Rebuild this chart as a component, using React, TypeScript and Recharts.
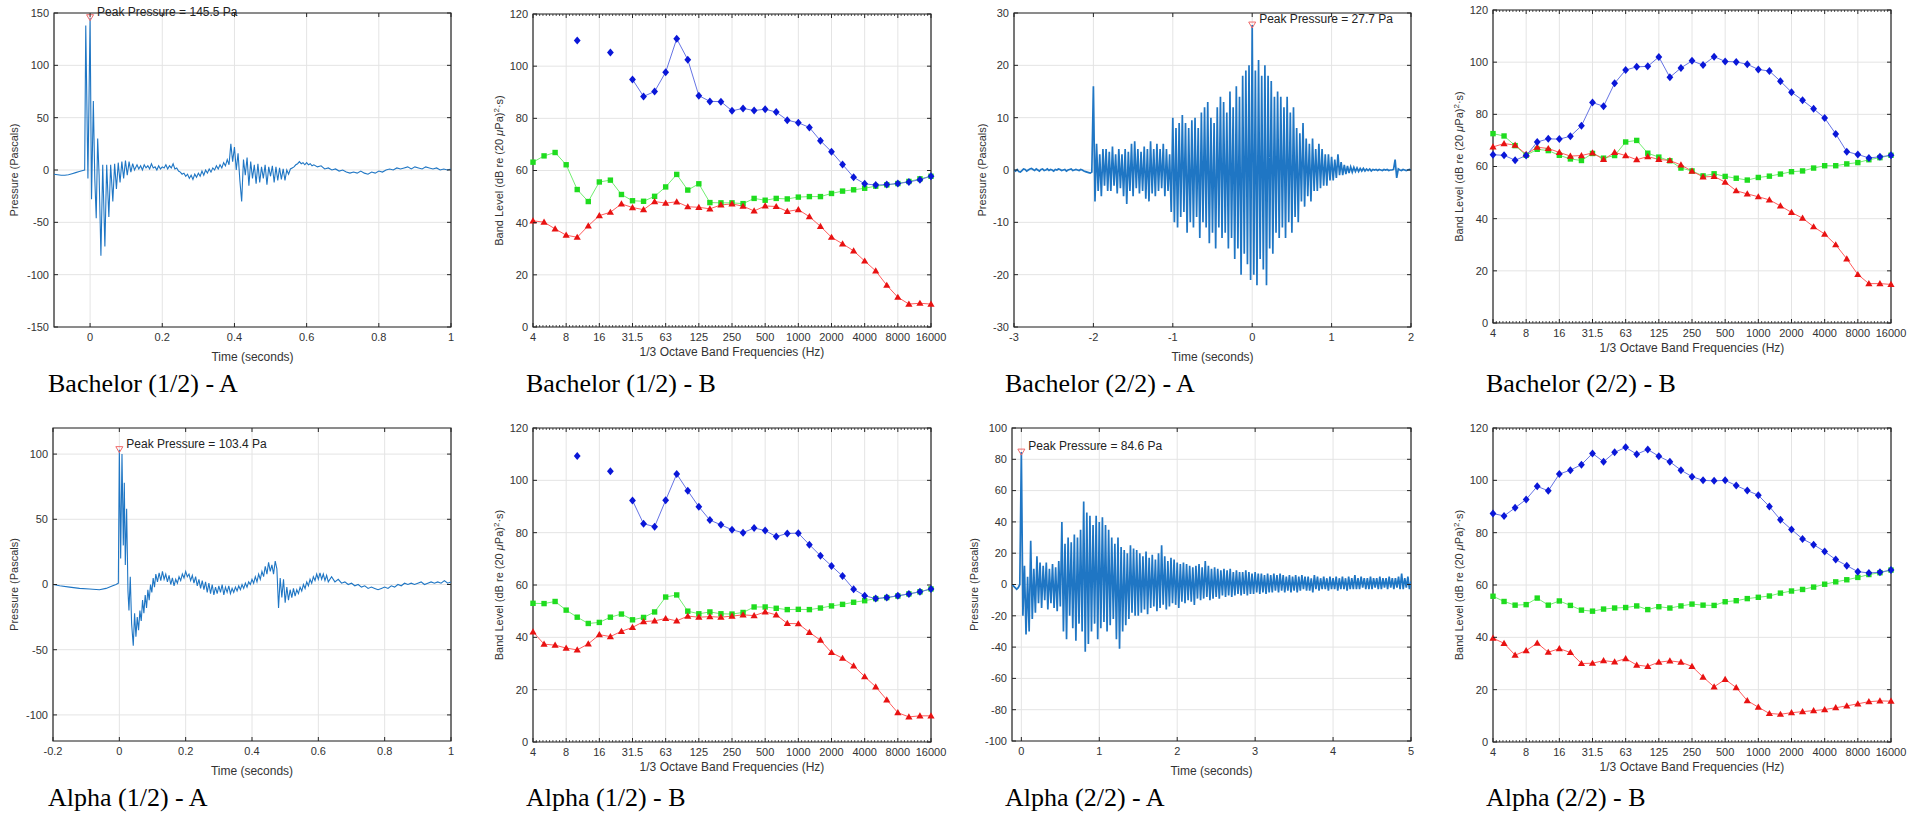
import { LineChart, Line, XAxis, YAxis, CartesianGrid, ReferenceArea, ReferenceDot } from 'recharts';

// 1/3 octave band centres (Hz), 4 .. 16000
const bandLabels = ['4', '5', '6.3', '8', '10', '12.5', '16', '20', '25', '31.5', '40', '50', '63', '80', '100', '125', '160', '200', '250', '315', '400', '500', '630', '800', '1000', '1250', '1600', '2000', '2500', '3150', '4000', '5000', '6300', '8000', '10000', '12500', '16000'];
const octaveTicks = [0, 3, 6, 9, 12, 15, 18, 21, 24, 27, 30, 33, 36];
const levelTicks = [0, 20, 40, 60, 80, 100, 120];

// band levels, dB re (20 uPa)^2*s
const bach1Blue = [null, null, null, null, 109.8, null, null, 105.2, null, 94.9, 88.4, 90.3, 97.7, 110.5, 102.5, 88.7, 86.5, 86.4, 82.9, 83.8, 83.0, 83.5, 82.4, 79.3, 78.3, 76.5, 71.4, 67.2, 62.3, 57.4, 54.9, 54.4, 54.6, 55.0, 55.6, 56.5, 57.8];
const bach1Green = [63.2, 65.6, 66.9, 62.2, 52.7, 48.1, 55.6, 56.3, 50.8, 48.4, 48.2, 50.1, 53.7, 58.5, 52.5, 54.9, 47.7, 47.6, 47.6, 47.3, 49.3, 48.6, 49.3, 49.1, 49.8, 50.0, 50.0, 51.2, 52.1, 52.6, 53.2, 54.0, 54.5, 55.0, 55.8, 56.8, 57.8];
const bach1Red = [40.7, 40.2, 37.6, 35.2, 34.4, 38.8, 42.7, 44.0, 47.2, 45.8, 45.0, 48.1, 47.5, 48.0, 46.1, 45.9, 45.3, 46.8, 47.2, 46.3, 44.5, 46.4, 46.2, 44.3, 45.0, 42.3, 38.6, 34.4, 31.9, 29.2, 25.3, 21.5, 16.0, 11.4, 8.8, 9.1, 8.8];

const bach2Blue = [64.5, 64.3, 62.4, 64.2, 69.4, 70.6, 70.5, 71.6, 75.6, 84.5, 83.1, 91.9, 97.0, 98.2, 98.4, 102.0, 94.2, 97.8, 100.5, 98.9, 102.1, 100.3, 100.1, 99.2, 97.2, 96.6, 92.7, 88.5, 85.4, 82.1, 78.6, 72.5, 65.7, 64.6, 63.3, 63.7, 64.3];
const bach2Green = [72.6, 71.7, 68.0, 64.3, 66.6, 66.1, 64.3, 62.9, 62.3, 65.0, 63.2, 64.2, 69.4, 70.0, 65.1, 63.6, 62.2, 59.4, 58.3, 56.4, 57.2, 56.2, 55.5, 54.8, 55.8, 56.3, 57.1, 58.0, 58.3, 59.4, 60.3, 60.3, 61.0, 61.5, 62.6, 63.4, 64.3];
const bach2Red = [67.5, 68.8, 68.2, 64.7, 67.4, 66.9, 65.4, 64.0, 64.2, 65.2, 62.7, 65.4, 64.2, 62.6, 63.8, 62.7, 62.3, 60.6, 58.2, 56.0, 56.2, 54.0, 50.7, 49.5, 48.4, 47.2, 44.9, 42.4, 40.2, 36.9, 34.1, 30.0, 24.6, 18.6, 15.1, 15.1, 14.8];

const alpha1Blue = [null, null, null, null, 109.3, null, null, 103.5, null, 92.3, 83.4, 82.3, 92.4, 102.4, 96.0, 89.9, 84.8, 83.0, 81.1, 80.0, 81.8, 80.8, 78.5, 79.7, 79.8, 75.4, 71.2, 67.3, 63.4, 58.4, 55.9, 54.8, 55.2, 55.9, 56.6, 57.4, 58.5];
const alpha1Green = [53.0, 52.9, 53.7, 50.4, 47.7, 45.3, 45.7, 47.7, 48.9, 46.7, 47.6, 49.7, 55.4, 56.2, 50.0, 49.0, 49.7, 49.0, 48.9, 49.5, 51.6, 51.6, 51.1, 50.6, 50.7, 50.6, 51.2, 52.0, 52.6, 53.4, 54.0, 54.8, 55.2, 55.8, 56.6, 57.4, 58.5];
const alpha1Red = [42.1, 37.4, 37.0, 35.9, 35.2, 37.5, 41.0, 40.3, 42.3, 43.8, 46.0, 46.3, 47.2, 46.3, 48.1, 47.7, 47.9, 47.7, 48.1, 48.6, 48.3, 49.7, 48.6, 45.3, 45.2, 41.9, 38.9, 34.2, 32.0, 29.1, 25.0, 21.1, 16.1, 11.2, 9.6, 10.0, 10.0];

const alpha2Blue = [87.3, 86.4, 89.5, 92.7, 97.7, 96.0, 102.4, 103.9, 106.0, 110.3, 107.1, 110.7, 112.6, 110.0, 111.8, 109.2, 107.1, 103.9, 101.4, 100.0, 99.8, 100.0, 98.0, 96.1, 94.3, 90.0, 84.9, 81.2, 77.6, 75.4, 72.8, 69.7, 67.4, 65.1, 64.6, 64.9, 65.7];
const alpha2Green = [55.7, 53.7, 52.3, 52.5, 55.0, 52.3, 53.9, 52.2, 50.4, 50.0, 50.8, 51.2, 51.4, 52.0, 50.6, 51.7, 51.2, 52.0, 52.7, 52.3, 52.2, 53.6, 54.0, 54.8, 55.3, 55.8, 56.9, 57.7, 58.3, 59.2, 60.3, 61.2, 62.0, 62.9, 64.0, 64.7, 65.7];
const alpha2Red = [39.7, 37.7, 33.2, 34.9, 37.8, 34.3, 35.7, 34.2, 30.0, 30.1, 31.1, 30.6, 31.9, 29.4, 28.9, 30.5, 31.0, 30.5, 28.9, 24.8, 21.1, 23.9, 20.8, 15.8, 13.3, 10.9, 10.6, 11.2, 11.6, 12.0, 12.4, 13.1, 13.8, 14.6, 15.4, 15.7, 15.6];

// pressure traces (seconds, Pa)
const bach1Wave: [number, number][] = [
  [-0.1, -4], [-0.09, -4.5], [-0.08, -5], [-0.07, -5], [-0.06, -4.5], [-0.05, -3.5], [-0.04, -2.5], [-0.03, -1.5], [-0.02, -0.5], [-0.015, 0],
  [-0.012, 138], [-0.006, -8], [0, 145.5], [0.004, -28], [0.009, 66], [0.013, -8], [0.017, -46], [0.021, 30], [0.025, -5], [0.03, -82],
  [0.035, 5], [0.041, -73], [0.046, 5], [0.052, -45], [0.057, 5], [0.063, -30], [0.068, 6], [0.073, -18], [0.078, 7], [0.083, -12],
  [0.088, 8], [0.093, -8], [0.098, 9], [0.103, -5], [0.108, 8], [0.113, -2], [0.118, 6], [0.123, 0], [0.13, 5], [0.135, 1],
  [0.14, 4], [0.145, 0], [0.15, 5], [0.155, 2], [0.16, 4], [0.165, 1], [0.17, 6], [0.175, 2], [0.18, 3], [0.185, 0],
  [0.19, 4], [0.195, 1], [0.2, 3], [0.205, 2], [0.21, 5], [0.215, 1], [0.22, 4], [0.225, 2], [0.23, 6], [0.235, 1],
  [0.24, 2], [0.245, -1], [0.25, -2], [0.255, -4], [0.26, -3], [0.265, -6], [0.27, -4], [0.275, -8], [0.28, -5], [0.285, -9],
  [0.29, -4], [0.295, -7], [0.3, -3], [0.305, -6], [0.31, -1], [0.315, -5], [0.32, 0], [0.325, -3], [0.33, 1], [0.335, -2],
  [0.34, 2], [0.345, 0], [0.35, 4], [0.355, 1], [0.36, 5], [0.365, 2], [0.37, 7], [0.375, 4], [0.38, 10], [0.385, 5],
  [0.39, 25], [0.395, 8], [0.4, 22], [0.405, 0], [0.41, 16], [0.415, -10], [0.42, -30], [0.425, 10], [0.43, -5], [0.435, 12],
  [0.44, -15], [0.445, 8], [0.45, -8], [0.455, 5], [0.46, -13], [0.465, 6], [0.47, -12], [0.475, 3], [0.48, -8], [0.485, 5],
  [0.49, -14], [0.495, 3], [0.5, -6], [0.505, 4], [0.51, -12], [0.515, 3], [0.52, -10], [0.525, 2], [0.53, -9], [0.535, 1],
  [0.54, -10], [0.545, 0], [0.55, -4], [0.555, 1], [0.56, 2], [0.565, 3], [0.57, 5], [0.575, 6], [0.58, 8], [0.585, 6],
  [0.59, 7], [0.595, 5], [0.6, 7], [0.605, 5], [0.61, 6], [0.615, 4], [0.62, 5], [0.63, 3], [0.64, 4], [0.65, 1],
  [0.66, 2], [0.67, 0], [0.68, 1], [0.69, -1], [0.7, 0], [0.71, -2], [0.72, -3], [0.73, -2], [0.74, -3], [0.75, -1],
  [0.76, -3], [0.77, -4], [0.78, -2], [0.79, -3], [0.8, -1], [0.81, -2], [0.82, 0], [0.83, 1], [0.84, 0], [0.85, 2],
  [0.86, 1], [0.87, 2], [0.88, 3], [0.89, 1], [0.9, 3], [0.91, 2], [0.92, 1], [0.93, 3], [0.94, 2], [0.95, 1],
  [0.96, 2], [0.97, 0], [0.98, 1], [0.99, 0], [1, 1],
];

const alpha1Wave: [number, number][] = [
  [-0.2, 0], [-0.18, -1], [-0.15, -2], [-0.12, -3], [-0.09, -3.5], [-0.06, -4], [-0.04, -3], [-0.02, -1], [-0.01, 0], [-0.003, 1],
  [0, 103.4], [0.004, 20], [0.008, 100], [0.012, 30], [0.015, 78], [0.018, 15], [0.022, 58], [0.026, -5], [0.029, -20], [0.033, 6],
  [0.037, -30], [0.042, -47], [0.046, -22], [0.05, -40], [0.054, -25], [0.058, -35], [0.062, -20], [0.066, -28], [0.07, -12], [0.074, -22],
  [0.078, -8], [0.082, -18], [0.086, -4], [0.09, -12], [0.094, 0], [0.098, -6], [0.102, 5], [0.106, -2], [0.11, 8], [0.115, 2],
  [0.12, 9], [0.125, 3], [0.13, 10], [0.135, 4], [0.14, 8], [0.145, 2], [0.15, 7], [0.155, 0], [0.16, 5], [0.165, -1],
  [0.17, 4], [0.175, 1], [0.18, 6], [0.185, 3], [0.19, 8], [0.195, 5], [0.2, 10], [0.205, 6], [0.21, 8], [0.215, 3],
  [0.22, 7], [0.225, 1], [0.23, 6], [0.235, -1], [0.24, 4], [0.245, -3], [0.25, 3], [0.255, -4], [0.26, 2], [0.265, -6],
  [0.27, 1], [0.275, -7], [0.28, 0], [0.285, -8], [0.29, -2], [0.295, -7], [0.3, -1], [0.305, -6], [0.31, 0], [0.315, -8],
  [0.32, -2], [0.325, -6], [0.33, -1], [0.335, -7], [0.34, -3], [0.345, -6], [0.35, -2], [0.355, -5], [0.36, -1], [0.365, -4],
  [0.37, 0], [0.375, -3], [0.38, 1], [0.385, -2], [0.39, 2], [0.395, 0], [0.4, 4], [0.405, 1], [0.41, 6], [0.415, 2],
  [0.42, 8], [0.425, 4], [0.43, 10], [0.435, 6], [0.44, 14], [0.445, 8], [0.45, 17], [0.455, 10], [0.46, 15], [0.465, 8],
  [0.47, 18], [0.475, 12], [0.48, -18], [0.485, 5], [0.49, -10], [0.495, 4], [0.5, -14], [0.505, -2], [0.51, -12], [0.515, -4],
  [0.52, -10], [0.525, -3], [0.53, -9], [0.535, -4], [0.54, -7], [0.545, -2], [0.55, -5], [0.555, 0], [0.56, -3], [0.565, 2],
  [0.57, -1], [0.575, 4], [0.58, 1], [0.585, 6], [0.59, 3], [0.595, 8], [0.6, 4], [0.605, 9], [0.61, 4], [0.615, 8],
  [0.62, 3], [0.625, 7], [0.63, 2], [0.64, 6], [0.65, 2], [0.66, 4], [0.67, 1], [0.68, 2], [0.69, 0], [0.7, 1],
  [0.71, -1], [0.72, 0], [0.73, -2], [0.74, -1], [0.75, -3], [0.76, -2], [0.77, -3], [0.78, -4], [0.79, -3], [0.8, -2],
  [0.81, -3], [0.82, -1], [0.83, -2], [0.84, 0], [0.85, -1], [0.86, 1], [0.87, 0], [0.88, 1], [0.89, 0], [0.9, 1],
  [0.91, 2], [0.92, 0], [0.93, 1], [0.94, 2], [0.95, 1], [0.96, 2], [0.97, 1], [0.98, 3], [0.99, 1], [1, 2],
];

// evenly sampled traces, one value every 0.02 s
const bach2Start = -3;
const bach2Pressure = [
  0, -0.2, 0.1, -0.3, -0.4, -0.1, 0.2, 0.1, -0.2, 0,
  0.2, 0.3, 0.1, -0.1, 0.2, 0, -0.2, 0.1, 0.2, -0.1,
  0, 0.2, -0.1, 0.1, 0, -0.2, 0.1, 0, 0.2, 0.1,
  -0.1, 0, 0.1, -0.2, 0, 0.1, 0.2, -0.1, 0, 0.1,
  0, -0.1, 0.1, 0, -0.2, -0.3, -0.4, -0.5, -0.6, -0.4,
  16, -6, 5, -4, 3, -5, 4, -3, 4, -4,
  3.5, -4, 4.5, -3, 3, -4.5, 4, -3.5, 3, -5,
  4, -6.5, 3.5, -4, 5, -5, 5.5, -3.5, 4, -4.5,
  3.5, -4, 4.5, -5.5, 4, -6, 5.5, -4.5, 4, -5,
  5, -4, 4, -3.5, 5, -5, 4, -4, 3, -8,
  10, -10, 8, -11, 9, -9, 10.5, -8, 9, -12,
  8, -10, 9.5, -11, 10, -9, 8, -13, 11, -10,
  12, -11, 13, -14, 10, -12, 9, -15, 12, -11,
  14, -13, 13, -12, 11, -15, 15, -13, 12, -17,
  16, -15, 14, -20, 18, -16, 19, -18, 20, -21,
  27.7, -20, 19, -22, 21, -17, 18, -19, 20, -22,
  18, -15, 17, -16, 14, -12, 15, -13, 14, -11,
  12, -13, 14, -10, 11, -12, 12, -9, 8, -10,
  7, -6, 9, -7, 6, -5, 5, -6, 6, -4,
  4, -4, 5, -3.5, 4, -3, 3, -3, 3, -2,
  2.5, -2, 2, -1.5, 3, -1, 1.5, -1, 1, -0.8,
  0.8, -0.6, 0.6, -0.4, 0.5, -0.3, 0.4, -0.3, 0.3, -0.2,
  0.3, -0.2, 0.2, -0.1, 0.2, -0.2, 0.1, 0, 0.1, -0.1,
  0.1, 0, -0.1, 0.1, 0, 0.1, -0.1, 0, 0, 0.1,
  2, -1.5, 0.2, 0, -0.1, 0.1, 0, -0.1, 0, 0.1,
  0,
];

const alpha2Start = -0.12;
const alpha2Pressure = [
  0, -1, -2, -3, -2, 0, 84.6, -20, 12, -32,
  5, -30, 28, -22, 10, -18, 18, -12, 14, -15,
  12, -10, 14, -16, 10, -12, 13, -15, 11, -17,
  15, -14, 40, -30, 26, -35, 30, -20, 27, -28,
  32, -36, 30, -25, 35, -30, 53, -43, 46, -38,
  44, -30, 38, -25, 44, -35, 40, -28, 43, -24,
  38, -30, 35, -26, 30, -22, 26, -35, 30, -41,
  24, -30, 22, -26, 20, -22, 25, -18, 23, -20,
  22, -20, 20, -18, 18, -16, 21, -19, 17, -15,
  19, -14, 16, -17, 20, -15, 25, -13, 18, -16,
  15, -14, 17, -12, 16, -13, 14, -15, 13, -11,
  14, -12, 13, -10, 12, -11, 11, -13, 12, -9,
  13, -10, 11, -9, 15, -8, 12, -10, 10, -9,
  11, -8, 10, -9, 9, -7, 10, -8, 9, -7,
  10, -8, 8, -7, 9, -6, 8, -7, 8, -6,
  9, -7, 8, -6, 7, -6, 8, -5, 7, -6,
  7, -5, 6, -6, 7, -5, 6, -5, 7, -4,
  6, -5, 7, -4, 6, -5, 5, -4, 6, -5,
  5, -4, 6, -5, 5, -4, 6, -3, 5, -4,
  5, -4, 4, -5, 6, -3, 5, -4, 4, -3,
  5, -3, 4, -4, 5, -3, 4, -3, 5, -4,
  4, -3, 5, -3, 4, -4, 5, -3, 4, -3,
  6, -3, 4, -3, 5, -2, 4, -3, 4, -3,
  5, -3, 4, -2, 4, -3, 5, -3, 4, -2,
  4, -3, 5, -2, 4, -3, 4, -2, 5, -3,
  7, -3, 4, -2, 5, -3, 2,
];
const sampleStep = 0.02;

const FRAME = '#262626';
const GRID = '#e4e4e4';
const TEXT = '#333333';
const WAVE = '#1f76c4';
const SANS = "'Liberation Sans', Arial, Helvetica, sans-serif";
const SERIF = "'Liberation Serif', 'Times New Roman', serif";

// chart-local padding round the plot box
const LEFT = 60;
const TOP = 20;
const RIGHT = 24;
const BOTTOM = 50;

type Box = { left: number; top: number; w: number; h: number };

const pairRows = (pts: [number, number][]) => pts.map(([t, p]) => ({ t, p }));
const stepRows = (start: number, vals: number[]) =>
  vals.map((p, i) => ({ t: Math.round((start + i * sampleStep) * 1000) / 1000, p }));
const bandRows = (blue: (number | null)[], green: number[], red: number[]) =>
  bandLabels.map((b, i) => ({ i, band: b, blue: blue[i], green: green[i], red: red[i] }));

const xTick = (box: Box, fmt: (v: number) => string, minor = 0) => (props: any) => {
  const { x, payload } = props;
  const yb = TOP + box.h;
  const marks = [];
  if (minor && payload.value < 36) {
    const step = box.w / 12 / minor;
    for (let k = 1; k < minor; k++) {
      const mx = x + k * step;
      marks.push(<line key={`b${k}`} x1={mx} x2={mx} y1={yb} y2={yb - 2} stroke={FRAME} strokeWidth={0.8} />);
      marks.push(<line key={`t${k}`} x1={mx} x2={mx} y1={TOP} y2={TOP + 2} stroke={FRAME} strokeWidth={0.8} />);
    }
  }
  return (
    <g>
      <line x1={x} x2={x} y1={yb} y2={yb - 4} stroke={FRAME} />
      <line x1={x} x2={x} y1={TOP} y2={TOP + 4} stroke={FRAME} />
      {marks}
      <text x={x} y={yb + 6} dy="0.71em" textAnchor="middle" fontSize={11} fontFamily={SANS} fill={TEXT}>
        {fmt(payload.value)}
      </text>
    </g>
  );
};

const yTick = (box: Box) => (props: any) => {
  const { y, payload } = props;
  return (
    <g>
      <line x1={LEFT} x2={LEFT + 4} y1={y} y2={y} stroke={FRAME} />
      <line x1={LEFT + box.w} x2={LEFT + box.w - 4} y1={y} y2={y} stroke={FRAME} />
      <text x={LEFT - 5} y={y} dy="0.35em" textAnchor="end" fontSize={11} fontFamily={SANS} fill={TEXT}>
        {payload.value}
      </text>
    </g>
  );
};

const marker = (kind: 'diamond' | 'square' | 'triangle', color: string) => (props: any) => {
  const { cx, cy, index } = props;
  const key = `${kind}-${index}`;
  if (!Number.isFinite(cx) || !Number.isFinite(cy) || props.value == null) return <g key={key} />;
  if (kind === 'diamond')
    return <path key={key} d={`M${cx},${cy - 4}L${cx + 3.4},${cy}L${cx},${cy + 4}L${cx - 3.4},${cy}Z`} fill={color} />;
  if (kind === 'square') return <rect key={key} x={cx - 2.7} y={cy - 2.7} width={5.4} height={5.4} fill={color} />;
  return <path key={key} d={`M${cx},${cy - 3.6}L${cx + 3.6},${cy + 2.6}L${cx - 3.6},${cy + 2.6}Z`} fill={color} />;
};

type WaveProps = {
  box: Box;
  rows: { t: number; p: number }[];
  xDomain: [number, number];
  xTicks: number[];
  yDomain: [number, number];
  yTicks: number[];
  peakT: number;
  peakP: number;
  lineWidth?: number;
};

function WavePanel({ box, rows, xDomain, xTicks, yDomain, yTicks, peakT, peakP, lineWidth = 1 }: WaveProps) {
  return (
    <div style={{ position: 'absolute', left: box.left - LEFT, top: box.top - TOP }}>
      <LineChart width={LEFT + box.w + RIGHT} height={TOP + box.h + BOTTOM} data={rows} margin={{ top: TOP, right: RIGHT, left: 0, bottom: 0 }}>
        <CartesianGrid stroke={GRID} />
        <XAxis type="number" dataKey="t" domain={xDomain} ticks={xTicks} allowDataOverflow interval={0} height={BOTTOM}
          axisLine={false} tickLine={false} tick={xTick(box, (v) => String(v))} />
        <YAxis type="number" domain={yDomain} ticks={yTicks} allowDataOverflow interval={0} width={LEFT}
          axisLine={false} tickLine={false} tick={yTick(box)} />
        <ReferenceArea x1={xDomain[0]} x2={xDomain[1]} y1={yDomain[0]} y2={yDomain[1]} fill="none" stroke={FRAME} strokeWidth={1.2} />
        <Line dataKey="p" type="linear" stroke={WAVE} strokeWidth={lineWidth} strokeLinejoin="miter" dot={false} isAnimationActive={false} />
        <ReferenceDot x={peakT} y={peakP} ifOverflow="visible"
          shape={(s: any) => (
            <g>
              <path d={`M${s.cx - 3.5},${s.cy - 3}L${s.cx + 3.5},${s.cy - 3}L${s.cx},${s.cy + 3}Z`} fill="none" stroke="#f06a6a" strokeWidth={1} />
              <text x={s.cx + 7} y={s.cy - 6} dy="0.35em" fontSize={12} fontFamily={SANS} fill="#222">
                {`Peak Pressure = ${peakP} Pa`}
              </text>
            </g>
          )} />
      </LineChart>
    </div>
  );
}

function BandPanel({ box, rows }: { box: Box; rows: ReturnType<typeof bandRows> }) {
  return (
    <div style={{ position: 'absolute', left: box.left - LEFT, top: box.top - TOP }}>
      <LineChart width={LEFT + box.w + RIGHT} height={TOP + box.h + BOTTOM} data={rows} margin={{ top: TOP, right: RIGHT, left: 0, bottom: 0 }}>
        <CartesianGrid stroke={GRID} />
        <XAxis type="number" dataKey="i" domain={[0, 36]} ticks={octaveTicks} interval={0} height={BOTTOM}
          axisLine={false} tickLine={false} tick={xTick(box, (v) => bandLabels[v], 10)} />
        <YAxis type="number" domain={[0, 120]} ticks={levelTicks} interval={0} width={LEFT}
          axisLine={false} tickLine={false} tick={yTick(box)} />
        <ReferenceArea x1={0} x2={36} y1={0} y2={120} fill="none" stroke={FRAME} strokeWidth={1.2} />
        <Line dataKey="green" stroke="#72ee72" strokeWidth={1} dot={marker('square', '#1fdc1f')} isAnimationActive={false} />
        <Line dataKey="red" stroke="#ff5c5c" strokeWidth={1} dot={marker('triangle', '#e81212')} isAnimationActive={false} />
        <Line dataKey="blue" stroke="#6674e4" strokeWidth={1} dot={marker('diamond', '#0a17d8')} isAnimationActive={false} />
      </LineChart>
    </div>
  );
}

const boxes: Record<string, Box> = {
  b1a: { left: 54, top: 13, w: 397, h: 314 },
  b1b: { left: 533, top: 14, w: 398, h: 313 },
  b2a: { left: 1014, top: 13, w: 397, h: 314 },
  b2b: { left: 1493, top: 10, w: 398, h: 313 },
  a1a: { left: 53, top: 428, w: 398, h: 313 },
  a1b: { left: 533, top: 428, w: 398, h: 314 },
  a2a: { left: 1012, top: 428, w: 399, h: 313 },
  a2b: { left: 1493, top: 428, w: 398, h: 314 },
};

const captions: [string, number, number][] = [
  ['Bachelor (1/2) - A', 48, 392],
  ['Bachelor (1/2) - B', 526, 392],
  ['Bachelor (2/2) - A', 1005, 392],
  ['Bachelor (2/2) - B', 1486, 392],
  ['Alpha (1/2) - A', 48, 806],
  ['Alpha (1/2) - B', 526, 806],
  ['Alpha (2/2) - A', 1005, 806],
  ['Alpha (2/2) - B', 1486, 806],
];

const waveKeys = [['b1a', 40], ['b2a', 32], ['a1a', 39], ['a2a', 38]] as const;
const bandKeys = ['b1b', 'b2b', 'a1b', 'a2b'] as const;

export default function App() {
  return (
    <div style={{ position: 'absolute', left: 0, top: 0, width: 1925, height: 817, background: '#fff', overflow: 'hidden' }}>
      <WavePanel box={boxes.b1a} rows={pairRows(bach1Wave)} xDomain={[-0.1, 1]} xTicks={[0, 0.2, 0.4, 0.6, 0.8, 1]}
        yDomain={[-150, 150]} yTicks={[-150, -100, -50, 0, 50, 100, 150]} peakT={0} peakP={145.5} lineWidth={1.1} />
      <BandPanel box={boxes.b1b} rows={bandRows(bach1Blue, bach1Green, bach1Red)} />
      <WavePanel box={boxes.b2a} rows={stepRows(bach2Start, bach2Pressure)} xDomain={[-3, 2]} xTicks={[-3, -2, -1, 0, 1, 2]}
        yDomain={[-30, 30]} yTicks={[-30, -20, -10, 0, 10, 20, 30]} peakT={0} peakP={27.7} lineWidth={1.7} />
      <BandPanel box={boxes.b2b} rows={bandRows(bach2Blue, bach2Green, bach2Red)} />
      <WavePanel box={boxes.a1a} rows={pairRows(alpha1Wave)} xDomain={[-0.2, 1]} xTicks={[-0.2, 0, 0.2, 0.4, 0.6, 0.8, 1]}
        yDomain={[-120, 120]} yTicks={[-100, -50, 0, 50, 100]} peakT={0} peakP={103.4} lineWidth={1.1} />
      <BandPanel box={boxes.a1b} rows={bandRows(alpha1Blue, alpha1Green, alpha1Red)} />
      <WavePanel box={boxes.a2a} rows={stepRows(alpha2Start, alpha2Pressure)} xDomain={[-0.12, 5]} xTicks={[0, 1, 2, 3, 4, 5]}
        yDomain={[-100, 100]} yTicks={[-100, -80, -60, -40, -20, 0, 20, 40, 60, 80, 100]} peakT={0} peakP={84.6} lineWidth={1.7} />
      <BandPanel box={boxes.a2b} rows={bandRows(alpha2Blue, alpha2Green, alpha2Red)} />

      <svg width={1925} height={817} style={{ position: 'absolute', left: 0, top: 0, pointerEvents: 'none' }}>
        {waveKeys.map(([k, gap]) => {
          const b = boxes[k];
          const cy = b.top + b.h / 2;
          return (
            <g key={k} fontFamily={SANS} fill={TEXT}>
              <text x={b.left + b.w / 2} y={b.top + b.h + 30} dy="0.35em" textAnchor="middle" fontSize={12}>Time (seconds)</text>
              <text x={b.left - gap} y={cy} dy="0.35em" textAnchor="middle" fontSize={11} transform={`rotate(-90 ${b.left - gap} ${cy})`}>
                Pressure (Pascals)
              </text>
            </g>
          );
        })}
        {bandKeys.map((k) => {
          const b = boxes[k];
          const cy = b.top + b.h / 2;
          const lx = b.left - 34;
          return (
            <g key={k} fontFamily={SANS} fill={TEXT}>
              <text x={b.left + b.w / 2} y={b.top + b.h + 25} dy="0.35em" textAnchor="middle" fontSize={12}>
                1/3 Octave Band Frequencies (Hz)
              </text>
              <text x={lx} y={cy} dy="0.35em" textAnchor="middle" fontSize={11} transform={`rotate(-90 ${lx} ${cy})`}>
                Band Level (dB re (20 <tspan fontStyle="italic">μ</tspan>Pa)<tspan dy="-4" fontSize={8}>2</tspan>
                <tspan dy="4">·s)</tspan>
              </text>
            </g>
          );
        })}
        {captions.map(([t, x, y]) => (
          <text key={t} x={x} y={y} fontFamily={SERIF} fontSize={26} fill="#000">{t}</text>
        ))}
      </svg>
    </div>
  );
}
